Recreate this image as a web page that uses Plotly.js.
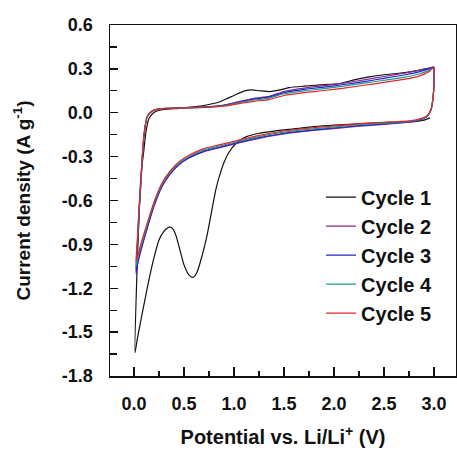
<!DOCTYPE html>
<html>
<head>
<meta charset="utf-8">
<script src="https://cdn.plot.ly/plotly-3.0.1.min.js"></script>
<style>html,body{margin:0;padding:0;background:#fff;}#chart{width:457px;height:454px;}</style>
</head>
<body>
<div id="chart"></div>
<script>
// Series names
var seriesNames = ["Cycle 1", "Cycle 2", "Cycle 3", "Cycle 4", "Cycle 5"];

// Cycle 1 (first cycle, from OCV ~3.0 V down to 0.01 V and back to 3.0 V)
var potCycle1 = [2.96, 2.9, 2.8, 2.6, 2.4, 2.2, 2.0, 1.8, 1.6, 1.4, 1.25, 1.12, 1.02, 0.95, 0.9, 0.86, 0.82, 0.78, 0.73, 0.68, 0.63, 0.59, 0.55, 0.5, 0.46, 0.42, 0.39, 0.36, 0.33, 0.29, 0.25, 0.2, 0.15, 0.1, 0.06, 0.03, 0.01,
  0.03, 0.05, 0.07, 0.1, 0.12, 0.15, 0.19, 0.23, 0.3, 0.45, 0.6, 0.76, 0.86, 0.94, 1.02, 1.1, 1.18, 1.26, 1.36, 1.45, 1.55, 1.7, 1.86, 2.06, 2.2, 2.35, 2.5, 2.65, 2.8, 2.95, 3.0];
var curCycle1 = [-0.035, -0.05, -0.06, -0.065, -0.07, -0.078, -0.085, -0.095, -0.11, -0.125, -0.14, -0.165, -0.21, -0.27, -0.34, -0.42, -0.52, -0.66, -0.84, -0.98, -1.09, -1.125, -1.11, -1.04, -0.94, -0.84, -0.795, -0.78, -0.79, -0.82, -0.87, -0.99, -1.14, -1.31, -1.45, -1.56, -1.64,
  -1.08, -0.72, -0.42, -0.25, -0.13, -0.04, -0.003, 0.012, 0.022, 0.03, 0.04, 0.058, 0.075, 0.1, 0.125, 0.148, 0.156, 0.15, 0.145, 0.155, 0.172, 0.182, 0.19, 0.2, 0.225, 0.245, 0.26, 0.27, 0.285, 0.305, 0.31];

// Cycles 2-5 share the same sampled potentials (3.0 V -> 0.02 V -> 3.0 V)
var potCycles = [3.0, 3.0, 2.99, 2.97, 2.93, 2.87, 2.75, 2.5, 2.25, 2.0, 1.75, 1.5, 1.25, 1.0, 0.85, 0.7, 0.55, 0.45, 0.36, 0.28, 0.2, 0.13, 0.08, 0.04, 0.02,
  0.035, 0.05, 0.07, 0.09, 0.11, 0.13, 0.16, 0.2, 0.28, 0.45, 0.7, 0.9, 1.05, 1.2, 1.35, 1.5, 1.7, 1.9, 2.1, 2.3, 2.5, 2.7, 2.85, 2.95, 3.0];
var curCycle2 = [0.31, 0.2, 0.1, 0.02, -0.025, -0.047, -0.065, -0.08, -0.092, -0.108, -0.124, -0.145, -0.175, -0.214, -0.24, -0.266, -0.31, -0.356, -0.422, -0.505, -0.64, -0.795, -0.915, -1.02, -1.08,
  -0.89, -0.68, -0.47, -0.235, -0.1, -0.03, 0.0, 0.018, 0.029, 0.034, 0.04, 0.053, 0.076, 0.098, 0.112, 0.145, 0.168, 0.185, 0.203, 0.225, 0.248, 0.27, 0.29, 0.305, 0.315];
var curCycle3 = [0.31, 0.2, 0.1, 0.02, -0.024, -0.045, -0.063, -0.076, -0.088, -0.104, -0.12, -0.14, -0.17, -0.21, -0.236, -0.262, -0.307, -0.352, -0.418, -0.5, -0.635, -0.79, -0.91, -1.02, -1.10,
  -0.9, -0.69, -0.47, -0.235, -0.1, -0.03, 0.0, 0.018, 0.028, 0.033, 0.038, 0.05, 0.072, 0.093, 0.107, 0.138, 0.16, 0.175, 0.193, 0.213, 0.235, 0.258, 0.28, 0.3, 0.315];
var curCycle4 = [0.31, 0.2, 0.1, 0.02, -0.022, -0.043, -0.06, -0.071, -0.082, -0.098, -0.113, -0.133, -0.163, -0.203, -0.228, -0.254, -0.299, -0.345, -0.41, -0.49, -0.62, -0.77, -0.89, -0.99, -1.05,
  -0.87, -0.67, -0.46, -0.23, -0.1, -0.03, 0.0, 0.018, 0.028, 0.032, 0.037, 0.048, 0.068, 0.087, 0.1, 0.13, 0.15, 0.165, 0.182, 0.202, 0.222, 0.242, 0.265, 0.29, 0.31];
var curCycle5 = [0.31, 0.2, 0.1, 0.02, -0.02, -0.04, -0.055, -0.065, -0.075, -0.09, -0.105, -0.125, -0.155, -0.195, -0.22, -0.245, -0.29, -0.335, -0.40, -0.48, -0.61, -0.76, -0.87, -0.97, -1.02,
  -0.85, -0.65, -0.45, -0.22, -0.1, -0.03, 0.0, 0.018, 0.028, 0.032, 0.036, 0.045, 0.062, 0.078, 0.09, 0.118, 0.138, 0.152, 0.168, 0.188, 0.208, 0.228, 0.25, 0.28, 0.31];

// Tick labels
var xTickVals = [0.0, 0.5, 1.0, 1.5, 2.0, 2.5, 3.0];
var xTickText = ["0.0", "0.5", "1.0", "1.5", "2.0", "2.5", "3.0"];
var yTickVals = [0.6, 0.3, 0.0, -0.3, -0.6, -0.9, -1.2, -1.5, -1.8];
var yTickText = ["0.6", "0.3", "0.0", "-0.3", "-0.6", "-0.9", "-1.2", "-1.5", "-1.8"];

var colors = ["#111111", "#8a2a8a", "#2424c8", "#1f9a8e", "#e02828"];
var xs = [potCycle1, potCycles, potCycles, potCycles, potCycles];
var ys = [curCycle1, curCycle2, curCycle3, curCycle4, curCycle5];

var traces = seriesNames.map(function (n, i) {
  return {
    type: "scatter", mode: "lines", name: n,
    x: xs[i], y: ys[i],
    line: {color: colors[i], width: 1.2, shape: "spline", smoothing: 0.6}
  };
});

var fam = "Liberation Sans, Arial, sans-serif";

var layout = {
  width: 457, height: 454,
  margin: {l: 110, r: 1, t: 25, b: 78},
  paper_bgcolor: "#fff", plot_bgcolor: "#fff",
  font: {family: fam, color: "#111", size: 18, weight: "bold"},
  showlegend: true,
  legend: {
    x: 0.61, xanchor: "left", y: 0.565, yanchor: "top",
    bgcolor: "rgba(0,0,0,0)", borderwidth: 0,
    font: {family: fam, size: 20, color: "#111", weight: "bold"},
    tracegroupgap: 0
  },
  xaxis: {
    range: [-0.24, 3.22],
    tickvals: xTickVals, ticktext: xTickText,
    ticks: "inside", ticklen: 9, tickwidth: 1.3, tickcolor: "#111",
    minor: {ticks: "inside", ticklen: 5, tickwidth: 1.3, tickcolor: "#111", dtick: 0.25, tick0: 0, showgrid: false},
    showline: true, linecolor: "#111", linewidth: 1.5, mirror: true,
    showgrid: false, zeroline: false,
    ticklabelstandoff: 11,
    tickfont: {family: fam, size: 18, color: "#111", weight: "bold"},
    title: {text: "Potential vs. Li/Li<sup>+</sup> (V)", standoff: 17,
      font: {family: fam, size: 20, color: "#111", weight: "bold"}}
  },
  yaxis: {
    range: [-1.8, 0.6],
    tickvals: yTickVals, ticktext: yTickText,
    ticks: "inside", ticklen: 8, tickwidth: 1.3, tickcolor: "#111",
    minor: {ticks: "inside", ticklen: 7, tickwidth: 1.3, tickcolor: "#111", dtick: 0.15, tick0: 0, showgrid: false},
    showline: true, linecolor: "#111", linewidth: 1.5, mirror: true,
    showgrid: false, zeroline: false,
    ticklabelstandoff: 12,
    tickfont: {family: fam, size: 18, color: "#111", weight: "bold"},
    title: {text: "Current density (A g<sup>-1</sup>)", standoff: 26,
      font: {family: fam, size: 19, color: "#111", weight: "bold"}}
  }
};

Plotly.newPlot("chart", traces, layout, {displayModeBar: false, staticPlot: true});
</script>
</body>
</html>
